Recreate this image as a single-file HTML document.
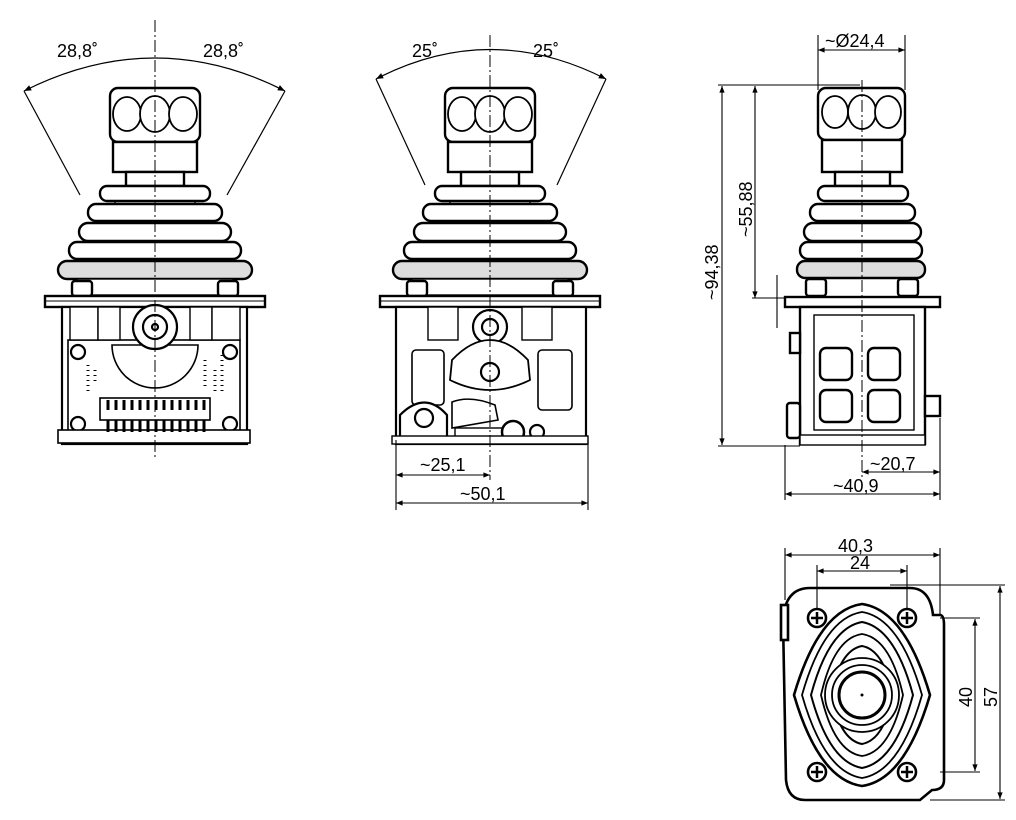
<!DOCTYPE html>
<html><head><meta charset="utf-8"><style>
html,body{margin:0;padding:0;background:#fff;}
svg{display:block}
text{font-family:"Liberation Sans",sans-serif;font-size:18px;fill:#000}
</style></head><body>
<svg width="1016" height="820" viewBox="0 0 1016 820" xmlns="http://www.w3.org/2000/svg">
<defs>
<marker id="a" viewBox="0 0 10 10" refX="10" refY="5" markerWidth="8" markerHeight="6" orient="auto-start-reverse"><path d="M0,1 L10,5 L0,9 z" fill="#000"/></marker>
<g id="top" fill="#fff" stroke="#000" stroke-width="2.4">
 <rect x="-45" y="88" width="90" height="54" rx="8"/>
 <ellipse cx="-28" cy="114" rx="14" ry="17" stroke-width="1.8"/>
 <ellipse cx="0" cy="114" rx="15" ry="18" stroke-width="1.8"/>
 <ellipse cx="28" cy="114" rx="14" ry="17" stroke-width="1.8"/>
 <rect x="-42" y="142" width="84" height="30"/>
 <rect x="-29" y="172" width="58" height="14"/>
 <rect x="-55" y="186" width="110" height="15" rx="7"/>
 <rect x="-67" y="204" width="134" height="17" rx="8"/>
 <rect x="-76" y="223" width="152" height="18" rx="9"/>
 <rect x="-86" y="242" width="172" height="17" rx="8"/>
 <rect x="-97" y="261" width="194" height="18" rx="9" fill="#ddd"/>
 <line x1="0" y1="186" x2="0" y2="186"/>
 <path d="M-40,201 V204 M40,201 V204 M-50,221 V223 M50,221 V223 M-60,241 V242 M60,241 V242" stroke-width="1.4"/>
 <rect x="-78" y="279" width="156" height="16" stroke-width="1.4"/>
 <rect x="-83" y="281" width="20" height="15" rx="3"/>
 <rect x="63" y="281" width="20" height="15" rx="3"/>
 <rect x="-110" y="296" width="220" height="11" stroke-width="2.4"/>
 <line x1="-110" y1="301" x2="110" y2="301" stroke-width="1"/>
</g>
</defs>

<g fill="none" stroke="#000" stroke-width="1.2">
 <path d="M24,91 Q155,25 285,91" marker-start="url(#a)" marker-end="url(#a)"/>
 <line x1="24" y1="91" x2="80" y2="195"/>
 <line x1="285" y1="91" x2="227" y2="195"/>
 <path d="M376,79 Q490,20 606,79" marker-start="url(#a)" marker-end="url(#a)"/>
 <line x1="376" y1="79" x2="425" y2="185"/>
 <line x1="606" y1="79" x2="557" y2="185"/>
</g>
<text x="57" y="57">28,8˚</text><text x="203" y="57">28,8˚</text>
<text x="412" y="57">25˚</text><text x="533" y="57">25˚</text>

<use href="#top" x="155"/>
<g fill="#fff" stroke="#000" stroke-width="2.2">
 <rect x="62" y="307" width="185" height="137"/>
 <rect x="68" y="340" width="172" height="92" stroke-width="1.6"/>
 <rect x="70" y="307" width="28" height="33" stroke-width="1.4"/>
 <rect x="98" y="307" width="22" height="33" stroke-width="1.4"/>
 <rect x="190" y="307" width="22" height="33" stroke-width="1.4"/>
 <rect x="212" y="307" width="28" height="33" stroke-width="1.4"/>
 <path d="M112,345 A43,43 0 0 0 198,345 Z" stroke-width="1.6"/>
 <circle cx="155" cy="327" r="22"/><circle cx="155" cy="327" r="12"/><circle cx="155" cy="327" r="3"/>
 <circle cx="78" cy="352" r="7"/><circle cx="230" cy="352" r="7"/>
 <circle cx="78" cy="424" r="7"/><circle cx="230" cy="424" r="7"/>
 <rect x="100" y="398" width="110" height="22" stroke-width="1.6"/>
 <rect x="58" y="430" width="192" height="13" stroke-width="1.6"/>
</g>
<g stroke="#000" stroke-width="3">
 <path d="M108,400 V410 M116,400 V410 M124,400 V410 M132,400 V410 M140,400 V410 M148,400 V410 M156,400 V410 M164,400 V410 M172,400 V410 M180,400 V410 M188,400 V410 M196,400 V410 M204,400 V410"/>
 <path d="M108,420 V432 M116,420 V432 M124,420 V432 M132,420 V432 M140,420 V432 M148,420 V432 M156,420 V432 M164,420 V432 M172,420 V432 M180,420 V432 M188,420 V432 M196,420 V432 M204,420 V432"/>
</g>
<g stroke="#000" stroke-width="3" stroke-dasharray="1 4"><path d="M88,365 V395 M95,370 V385 M205,360 V390 M215,370 V395 M222,355 V395"/></g>
<line x1="155" y1="20" x2="155" y2="460" stroke="#000" stroke-width="1" stroke-dasharray="12 3 2 3"/>

<use href="#top" x="490"/>
<g fill="#fff" stroke="#000" stroke-width="2.2">
 <rect x="396" y="307" width="190" height="137"/>
 <rect x="428" y="307" width="30" height="33" stroke-width="1.4"/>
 <rect x="522" y="307" width="30" height="33" stroke-width="1.4"/>
 <circle cx="490" cy="327" r="17"/><circle cx="490" cy="327" r="8"/>
 <path d="M452,360 Q490,320 528,360 L530,380 Q490,400 450,380 Z" stroke-width="1.8"/>
 <circle cx="490" cy="372" r="9"/>
 <rect x="412" y="350" width="32" height="55" rx="4" stroke-width="1.6"/>
 <rect x="538" y="350" width="34" height="60" rx="4" stroke-width="1.6"/>
 <path d="M400,440 V415 Q425,390 447,415 V440 Z"/>
 <circle cx="424" cy="418" r="9"/>
 <path d="M452,402 Q470,395 495,405 L498,420 L452,428 Z" stroke-width="1.6"/>
 <rect x="455" y="428" width="50" height="12" stroke-width="1.4"/>
 <circle cx="513" cy="432" r="11" stroke-width="2.5"/><circle cx="537" cy="432" r="7"/>
 <rect x="392" y="436" width="196" height="8" stroke-width="1.4"/>
</g>
<line x1="490" y1="35" x2="490" y2="480" stroke="#000" stroke-width="1" stroke-dasharray="12 3 2 3"/>
<g fill="none" stroke="#000" stroke-width="1.1">
 <line x1="396" y1="440" x2="396" y2="510"/><line x1="588" y1="440" x2="588" y2="510"/>
 <line x1="396" y1="475" x2="490" y2="475" marker-start="url(#a)" marker-end="url(#a)"/>
 <line x1="396" y1="503" x2="588" y2="503" marker-start="url(#a)" marker-end="url(#a)"/>
</g>
<text x="420" y="471">~25,1</text><text x="460" y="500">~50,1</text>

<g fill="#fff" stroke="#000" stroke-width="2.4">
 <rect x="818" y="88" width="87" height="52" rx="8"/>
 <ellipse cx="835" cy="112" rx="13" ry="16" stroke-width="1.8"/>
 <ellipse cx="862" cy="112" rx="14" ry="17" stroke-width="1.8"/>
 <ellipse cx="888" cy="112" rx="13" ry="16" stroke-width="1.8"/>
 <rect x="822" y="140" width="80" height="32"/>
 <rect x="835" y="172" width="55" height="14"/>
 <rect x="818" y="186" width="90" height="15" rx="7"/>
 <rect x="810" y="204" width="105" height="17" rx="8"/>
 <rect x="804" y="223" width="117" height="18" rx="9"/>
 <rect x="800" y="242" width="122" height="17" rx="8"/>
 <rect x="797" y="261" width="128" height="17" rx="8" fill="#ddd"/>
 <rect x="806" y="279" width="20" height="17" rx="3"/><rect x="898" y="279" width="20" height="17" rx="3"/>
 <rect x="785" y="297" width="155" height="10"/>
 <rect x="800" y="307" width="125" height="137"/>
 <rect x="814" y="315" width="100" height="115" stroke-width="1.4"/>
 <rect x="820" y="348" width="32" height="32" rx="6"/><rect x="868" y="348" width="32" height="32" rx="6"/>
 <rect x="820" y="390" width="32" height="32" rx="6"/><rect x="868" y="390" width="32" height="32" rx="6"/>
 <rect x="787" y="403" width="13" height="35" rx="3"/>
 <rect x="925" y="396" width="15" height="20"/>
 <rect x="790" y="333" width="10" height="20"/>
 <rect x="800" y="435" width="125" height="10" stroke-width="1.4"/>
</g>
<line x1="862" y1="80" x2="862" y2="480" stroke="#000" stroke-width="1" stroke-dasharray="12 3 2 3"/>
<g fill="none" stroke="#000" stroke-width="1.1">
 <line x1="818" y1="35" x2="818" y2="90"/><line x1="905" y1="35" x2="905" y2="90"/>
 <line x1="818" y1="50" x2="905" y2="50" marker-start="url(#a)" marker-end="url(#a)"/>
 <line x1="718" y1="85" x2="860" y2="85"/>
 <line x1="722" y1="86" x2="722" y2="445" marker-start="url(#a)" marker-end="url(#a)"/>
 <line x1="718" y1="446" x2="800" y2="446"/>
 <line x1="755" y1="86" x2="755" y2="298" marker-start="url(#a)" marker-end="url(#a)"/>
 <line x1="752" y1="298" x2="786" y2="298"/>
 <line x1="777" y1="275" x2="777" y2="328"/>
 <line x1="785" y1="445" x2="785" y2="500"/><line x1="940" y1="418" x2="940" y2="500"/>
 <line x1="862" y1="472" x2="940" y2="472" marker-start="url(#a)" marker-end="url(#a)"/>
 <line x1="785" y1="494" x2="940" y2="494" marker-start="url(#a)" marker-end="url(#a)"/>
</g>
<text x="825" y="47">~Ø24,4</text>
<text transform="translate(718,300) rotate(-90)">~94,38</text>
<text transform="translate(752,237) rotate(-90)">~55,88</text>
<text x="870" y="470">~20,7</text><text x="833" y="492">~40,9</text>

<g fill="#fff" stroke="#000" stroke-width="2.6">
 <path d="M810,588 H910 Q930,588 933,615 H940 Q944,615 944,625 V780 Q944,790 932,790 L920,800 H805 Q788,800 786,780 L783,620 Q785,588 810,588 Z"/>
 <rect x="781" y="605" width="7" height="35"/>
 <path d="M862,604 Q905,610 930,695 Q905,780 862,786 Q819,780 794,695 Q819,610 862,604 Z"/>
 <path d="M862,612 Q900,618 922,695 Q900,772 862,778 Q824,772 802,695 Q824,618 862,612 Z" stroke-width="1.8"/>
 <path d="M862,622 Q895,628 913,695 Q895,762 862,768 Q829,762 811,695 Q829,628 862,622 Z" stroke-width="2"/>
 <path d="M862,634 Q890,638 903,695 Q890,752 862,756 Q834,752 821,695 Q834,638 862,634 Z" stroke-width="1.8"/>
 <path d="M862,646 Q884,650 893,695 Q884,740 862,744 Q840,740 831,695 Q840,650 862,646 Z" stroke-width="2"/>
 <circle cx="862" cy="695" r="37" stroke-width="1.8"/>
 <circle cx="862" cy="695" r="30" stroke-width="1.8"/>
 <circle cx="862" cy="695" r="23" stroke-width="3"/>
 <circle cx="817" cy="618" r="9"/><circle cx="907" cy="618" r="9"/>
 <circle cx="817" cy="772" r="9"/><circle cx="907" cy="772" r="9"/>
</g>
<circle cx="862" cy="695" r="1.5" fill="#000"/>
<g stroke="#000" stroke-width="2.5"><path d="M811,618h12M817,612v12M901,618h12M907,612v12M811,772h12M817,766v12M901,772h12M907,766v12"/></g>
<g fill="none" stroke="#000" stroke-width="1.1">
 <line x1="785" y1="548" x2="785" y2="600"/><line x1="940" y1="548" x2="940" y2="615"/>
 <line x1="785" y1="555" x2="940" y2="555" marker-start="url(#a)" marker-end="url(#a)"/>
 <line x1="817" y1="565" x2="817" y2="610"/><line x1="907" y1="565" x2="907" y2="610"/>
 <line x1="817" y1="571" x2="907" y2="571" marker-start="url(#a)" marker-end="url(#a)"/>
 <line x1="890" y1="585" x2="1005" y2="585"/><line x1="930" y1="800" x2="1005" y2="800"/>
 <line x1="1000" y1="586" x2="1000" y2="799" marker-start="url(#a)" marker-end="url(#a)"/>
 <line x1="940" y1="618" x2="980" y2="618"/><line x1="940" y1="772" x2="980" y2="772"/>
 <line x1="975" y1="619" x2="975" y2="771" marker-start="url(#a)" marker-end="url(#a)"/>
</g>
<text x="838" y="552">40,3</text><text x="850" y="569">24</text>
<text transform="translate(972,707) rotate(-90)">40</text>
<text transform="translate(997,707) rotate(-90)">57</text>
</svg>
</body></html>
